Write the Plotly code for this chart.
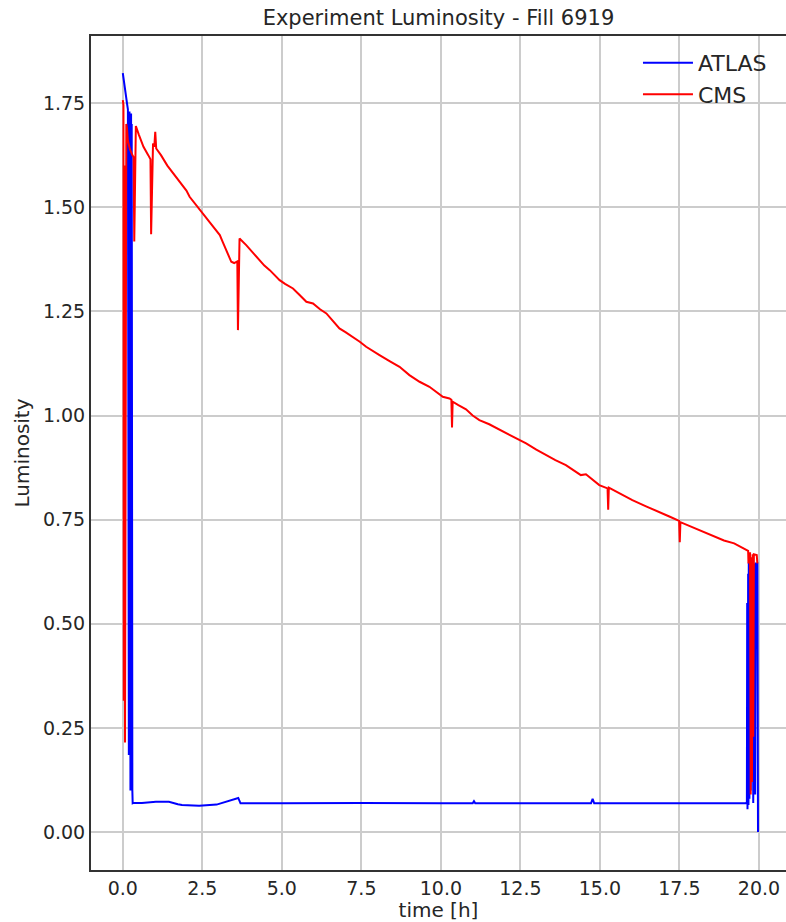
import plotly.graph_objects as go

# ATLAS luminosity vs. time
atlas_t = [0.0, 0.05, 0.10, 0.14, 0.16, 0.17, 0.18, 0.19, 0.21, 0.22, 0.23, 0.24, 0.26, 0.27,
           0.28, 0.30, 0.31, 0.34, 0.60, 1.04, 1.45, 1.73, 1.86, 2.40, 2.95, 3.63, 3.66, 3.70,
           5.0, 7.5, 10.0, 11.00, 11.04, 11.08, 12.5, 14.72, 14.77, 14.82, 17.5, 19.60,
           19.62, 19.63, 19.64, 19.66, 19.67, 19.68, 19.70, 19.72, 19.74, 19.76, 19.80,
           19.82, 19.85, 19.88, 19.90, 19.95, 19.97]
atlas_l = [1.822, 1.790, 1.765, 1.745, 1.735, 0.225, 1.730, 0.185, 1.730, 0.600, 1.725, 0.100,
           1.725, 0.300, 1.700, 0.100, 0.069, 0.070, 0.070, 0.073, 0.073, 0.067, 0.065, 0.063,
           0.066, 0.082, 0.075, 0.069, 0.069, 0.070, 0.069, 0.069, 0.074, 0.069, 0.069,
           0.069, 0.080, 0.069, 0.069, 0.070,
           0.072, 0.550, 0.055, 0.620, 0.065, 0.647, 0.080, 0.647, 0.100, 0.645, 0.645,
           0.070, 0.645, 0.090, 0.645, 0.645, 0.000]

# CMS luminosity vs. time
cms_t = [0.00, 0.02, 0.03, 0.05, 0.07, 0.11, 0.13, 0.16, 0.22, 0.30, 0.34, 0.36, 0.38, 0.41,
         0.50, 0.65, 0.80, 0.87, 0.89, 0.92, 0.95, 0.99, 1.02, 1.05, 1.20, 1.40, 1.60, 1.79,
         2.00, 2.10, 2.25, 2.42, 2.60, 2.84, 3.05, 3.15, 3.26, 3.41, 3.50, 3.60, 3.62, 3.64,
         3.67, 3.88, 4.10, 4.30, 4.45, 4.62, 4.80, 4.93, 5.10, 5.35, 5.55, 5.77, 5.98, 6.20,
         6.40, 6.60, 6.81, 7.00, 7.23, 7.45, 7.65, 7.85, 8.07, 8.40, 8.70, 9.01, 9.33, 9.64,
         9.85, 10.06, 10.27, 10.33, 10.35, 10.37, 10.55, 10.79, 11.00, 11.21, 11.52, 11.80,
         12.05, 12.35, 12.68, 13.00, 13.30, 13.60, 13.93, 14.20, 14.40, 14.56, 14.75, 14.98,
         15.24, 15.26, 15.28, 15.50, 16.02, 16.45, 16.86, 17.20, 17.49, 17.51, 17.53, 17.80,
         18.12, 18.50, 18.90, 19.22, 19.63, 19.66, 19.67, 19.70, 19.72, 19.74, 19.76, 19.78,
         19.80, 19.82, 19.84, 19.93, 19.95]
cms_l = [1.757, 1.745, 0.315, 1.600, 0.215, 1.700, 1.690, 1.660, 1.640, 1.625, 1.620, 1.418,
         1.620, 1.695, 1.675, 1.645, 1.625, 1.615, 1.435, 1.600, 1.653, 1.645, 1.681, 1.641,
         1.625, 1.600, 1.580, 1.561, 1.540, 1.525, 1.510, 1.493, 1.475, 1.453, 1.433, 1.415,
         1.397, 1.369, 1.366, 1.370, 1.205, 1.370, 1.425, 1.409, 1.390, 1.373, 1.360, 1.349,
         1.335, 1.325, 1.316, 1.305, 1.290, 1.273, 1.269, 1.255, 1.245, 1.228, 1.209, 1.200,
         1.189, 1.177, 1.165, 1.155, 1.145, 1.130, 1.117, 1.097, 1.081, 1.069, 1.057, 1.045,
         1.041, 1.038, 0.971, 1.033, 1.025, 1.015, 1.000, 0.989, 0.979, 0.968, 0.958, 0.946,
         0.933, 0.918, 0.905, 0.893, 0.881, 0.868, 0.857, 0.859, 0.847, 0.833, 0.825, 0.774,
         0.827, 0.818, 0.797, 0.782, 0.769, 0.757, 0.747, 0.696, 0.744, 0.735, 0.725, 0.712,
         0.700, 0.693, 0.678, 0.675, 0.645, 0.672, 0.672, 0.090, 0.660, 0.120, 0.667,
         0.229, 0.667, 0.665, 0.645]

x_ticks = [0.0, 2.5, 5.0, 7.5, 10.0, 12.5, 15.0, 17.5, 20.0]
y_ticks = [0.00, 0.25, 0.50, 0.75, 1.00, 1.25, 1.50, 1.75]

FONT = "DejaVu Sans"
TXT = "#262626"

fig = go.Figure()
fig.add_trace(go.Scatter(x=atlas_t, y=atlas_l, mode="lines", name="ATLAS",
                         line=dict(color="#0000ff", width=2)))
fig.add_trace(go.Scatter(x=cms_t, y=cms_l, mode="lines", name="CMS",
                         line=dict(color="#ff0000", width=2)))

fig.update_layout(
    width=786, height=922,
    margin=dict(l=91, r=0, t=36, b=52),
    paper_bgcolor="white", plot_bgcolor="white",
    font=dict(family=FONT, color=TXT, size=20),
    title=dict(text="Experiment Luminosity - Fill 6919", x=0.5, xref="paper",
               xanchor="center", y=1 - 18 / 922, yanchor="middle",
               font=dict(size=21, color=TXT)),
    legend=dict(x=0.787, y=0.993, xanchor="left", yanchor="top", itemwidth=50,
                bgcolor="rgba(0,0,0,0)", font=dict(size=22, color=TXT)),
    xaxis=dict(range=[-1.0, 20.85], tickvals=x_ticks,
               ticktext=[f"{v:.1f}" for v in x_ticks],
               showgrid=True, gridcolor="#cccccc", gridwidth=1.5,
               showline=True, linecolor="#333333", linewidth=2, mirror=True,
               ticks="", zeroline=False,
               title=dict(text="time [h]", font=dict(size=20), standoff=4),
               tickfont=dict(size=19)),
    yaxis=dict(range=[-0.091, 1.911], tickvals=y_ticks,
               ticktext=[f"{v:.2f}" for v in y_ticks],
               showgrid=True, gridcolor="#cccccc", gridwidth=1.5,
               showline=True, linecolor="#333333", linewidth=2, mirror=False,
               ticks="", zeroline=False,
               title=dict(text="Luminosity", font=dict(size=20), standoff=8),
               tickfont=dict(size=19)),
)

fig.write_html("out.html")
